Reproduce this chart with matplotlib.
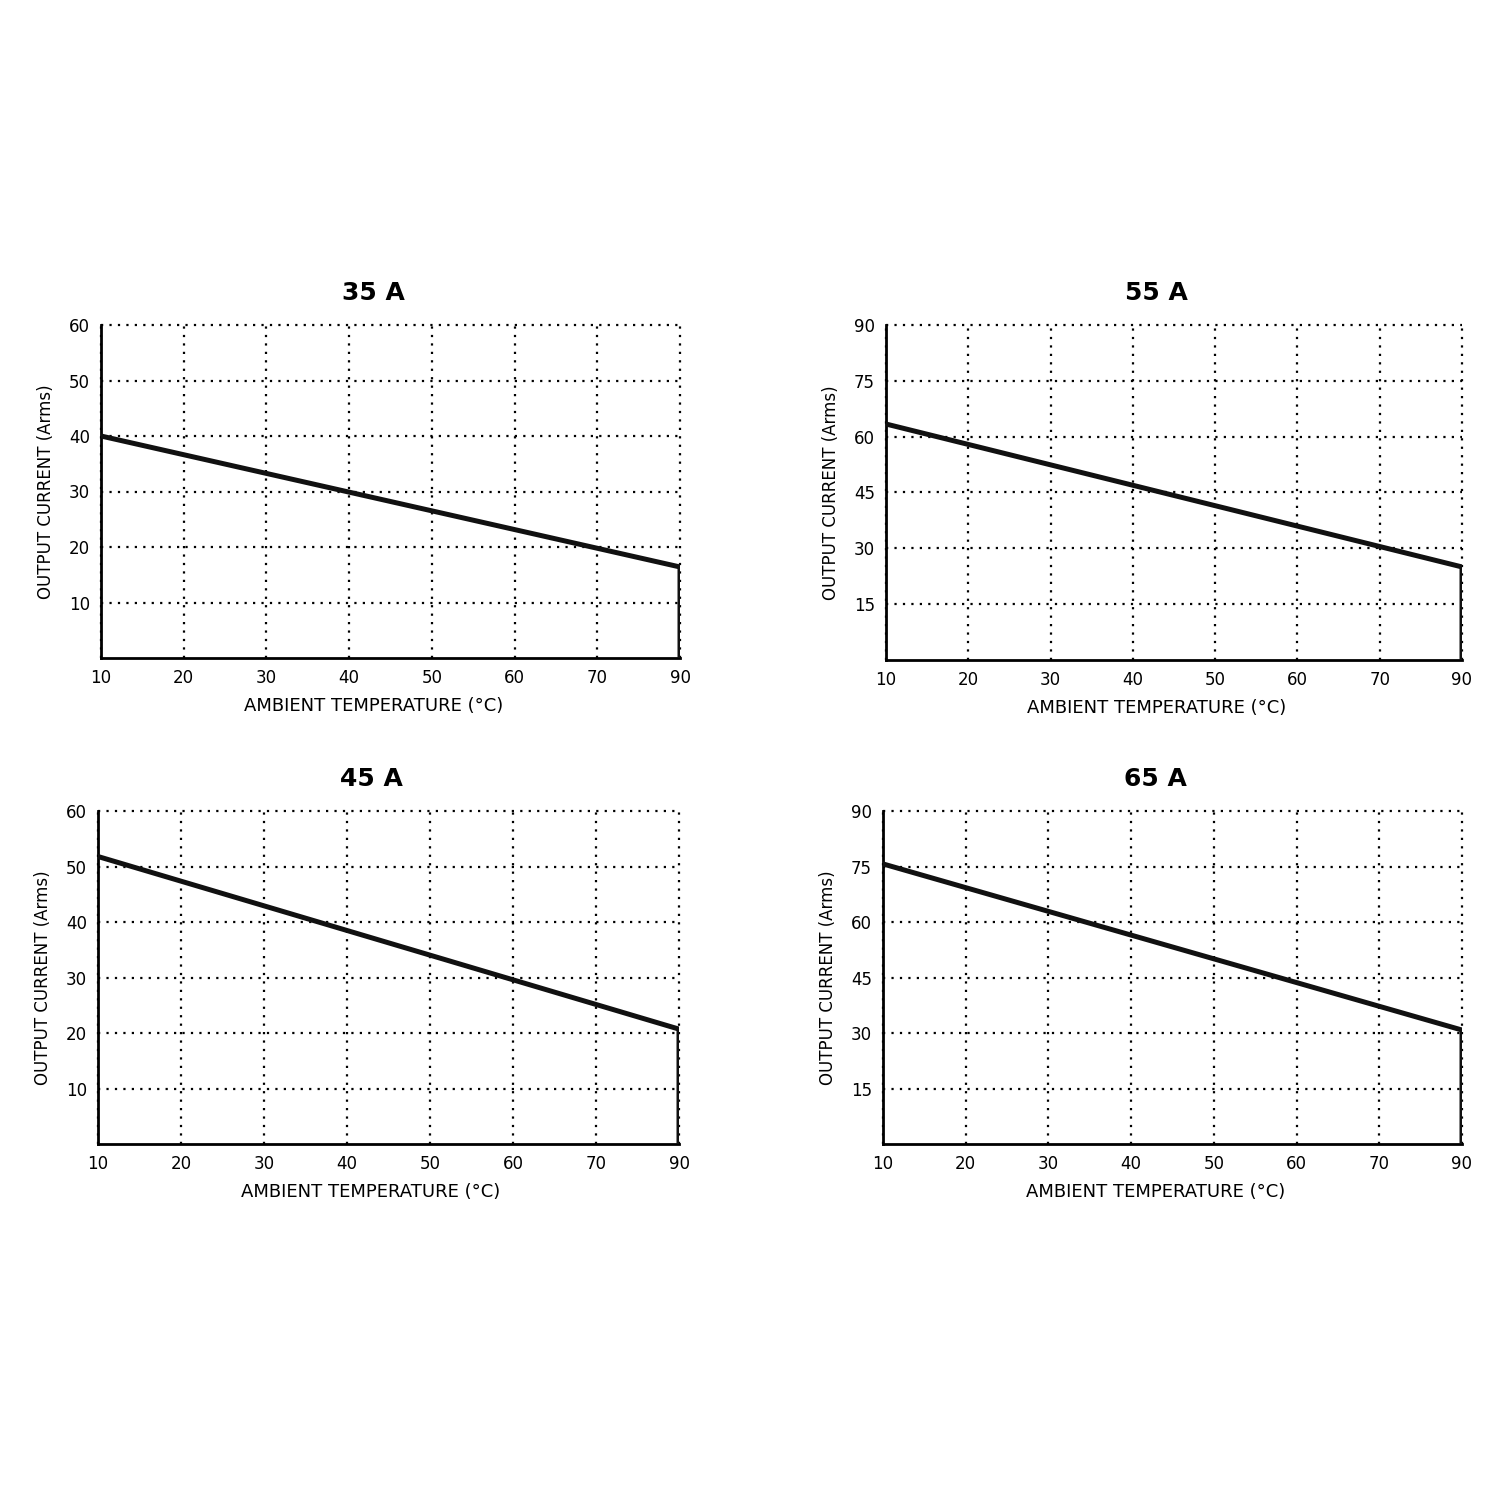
import numpy as np
import matplotlib.pyplot as plt

# derating curves: output current at 10 °C and at 90 °C, then drop to zero
titles = ['35 A', '55 A', '45 A', '65 A']
temps = [10, 90, 90]
curr_35 = [40.0, 16.4, 0]
curr_55 = [63.4, 25.0, 0]
curr_45 = [51.8, 20.7, 0]
curr_65 = [75.7, 30.8, 0]
x_labels = ['10', '20', '30', '40', '50', '60', '70', '90']
y_ticks_60 = [10, 20, 30, 40, 50, 60]
y_ticks_90 = [15, 30, 45, 60, 75, 90]

plt.rcParams['font.family'] = ['DejaVu Sans']

fig = plt.figure(figsize=(15, 15), dpi=100)

# axes boxes in figure pixels (left, top, right, bottom)
boxes = [(101, 325, 680, 658), (886, 325, 1462, 660),
         (98, 811, 679, 1144), (883, 811, 1462, 1144)]
data = [(curr_35, y_ticks_60, 60), (curr_55, y_ticks_90, 90),
        (curr_45, y_ticks_60, 60), (curr_65, y_ticks_90, 90)]

for (l, t, r, b), title, (curr, yt, ymax) in zip(boxes, titles, data):
    ax = fig.add_axes([l / 1500, 1 - b / 1500, (r - l) / 1500, (b - t) / 1500])
    ax.plot(temps, curr, color='#111111', linewidth=3.6, solid_joinstyle='miter', zorder=3)
    ax.set_xlim(10, 90)
    ax.set_ylim(0, ymax)
    ax.set_xticks(np.linspace(10, 90, len(x_labels)))
    ax.set_xticklabels(x_labels)
    ax.set_yticks(yt)
    ax.tick_params(length=0, labelsize=12, pad=8)
    ax.grid(True, color='black', linestyle=(0, (1, 2.8)), linewidth=1.6)
    for gl in ax.get_xgridlines() + ax.get_ygridlines():
        gl.set_clip_on(False)
    ax.set_axisbelow(True)
    for s in ['top', 'right']:
        ax.spines[s].set_visible(False)
    for s in ['left', 'bottom']:
        ax.spines[s].set_linewidth(2)
    ax.set_title(title, fontsize=18, fontweight='bold', pad=18, x=0.47)
    ax.set_xlabel('AMBIENT TEMPERATURE (°C)', fontsize=13, labelpad=7, x=0.47)
    ax.set_ylabel('OUTPUT CURRENT (Arms)', fontsize=12, labelpad=10)

plt.savefig('out.png', dpi=100)
